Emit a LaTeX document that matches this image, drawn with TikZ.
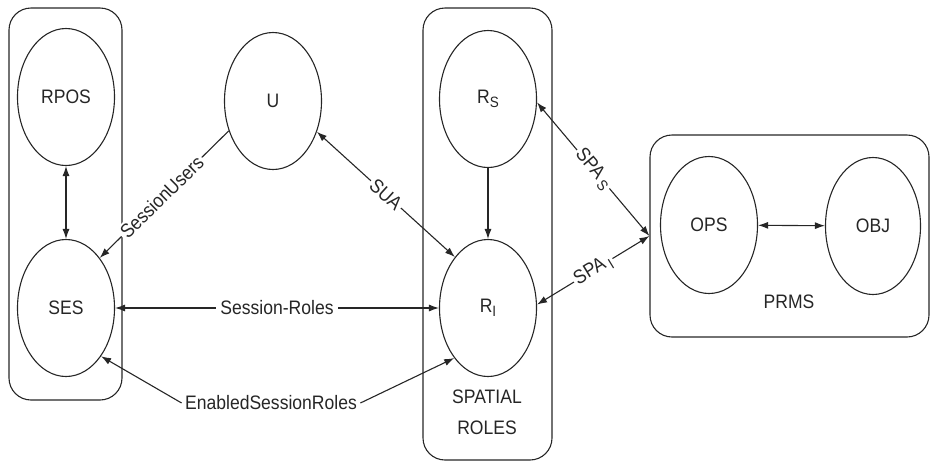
\documentclass[tikz,border=0pt]{standalone}
\usepackage{fontspec}
\setmainfont[FakeStretch=0.9]{Liberation Sans}
\usetikzlibrary{shapes.geometric,arrows.meta}
\newcommand\subx[1]{\raisebox{-4pt}{\fontsize{15}{15}\selectfont #1}}
\definecolor{ink}{HTML}{262626}
\tikzset{
  ell/.style={draw=ink, ellipse, minimum width=97pt, minimum height=137pt, inner sep=0pt, line width=1.1pt},
  grp/.style={draw=ink, rounded corners=22pt, line width=1.1pt, inner sep=0pt},
  both/.style={draw=ink, line width=1.1pt, {Latex[length=10pt,width=7pt]}-{Latex[length=10pt,width=7pt]}},
  one/.style={draw=ink, line width=1.1pt, -{Latex[length=10pt,width=7pt]}},
  lbl/.style={fill=white, inner sep=2pt}
}
\begin{document}
\begin{tikzpicture}[x=1pt, y=-1pt, font=\fontsize{19.5}{22}\selectfont, text=ink]
\useasboundingbox (0,0) rectangle (937,464);
% groups
\node[grp, minimum width=113pt, minimum height=392pt] (gL) at (65.5,204) {};
\node[grp, minimum width=129pt, minimum height=452pt] (gS) at (487.5,234) {};
\node[grp, minimum width=279pt, minimum height=202pt] (gP) at (789.5,236) {};
% ellipses
\node[ell] (rpos) at (66,97) {RPOS};
\node[ell] (ses) at (66,308) {SES};
\node[ell] (u) at (273,101) {U};
\node[ell] (rs) at (488,99) {R\subx{S}};
\node[ell] (ri) at (488,308) {R\subx{I}};
\node[ell] (ops) at (709,225) {OPS};
\node[ell, minimum width=95pt] (obj) at (873,226) {OBJ};
% group labels
\node[align=center, font=\fontsize{19.5}{31}\selectfont] (srl) at (487,412) {SPATIAL\\ROLES};
\node (prms) at (789,302) {PRMS};
\node (esr) at (271,403) {EnabledSessionRoles};
% connectors
\draw[both] (rpos) -- (ses);
\draw[one] (u.214) -- node[lbl, sloped, pos=0.52] {SessionUsers} (ses.56);
\draw[both] (u.325) -- node[lbl, sloped] {SUA} (ri.123);
\draw[both] (ses) -- node[lbl, inner sep=4pt] {Session-Roles} (ri);
\draw[one] (esr.west) -- (ses.306);
\draw[one] (esr.east) -- (ri.236);
\draw[one] (rs) -- (ri);
\draw[both] (rs.356) -- node[lbl, sloped] {SPA\,\subx{S}} (gP.west);
\draw[both] (ri.4) -- node[lbl, sloped] {SPA\,\subx{I}} (gP.west);
\draw[both] (ops) -- (obj);
\end{tikzpicture}
\end{document}
